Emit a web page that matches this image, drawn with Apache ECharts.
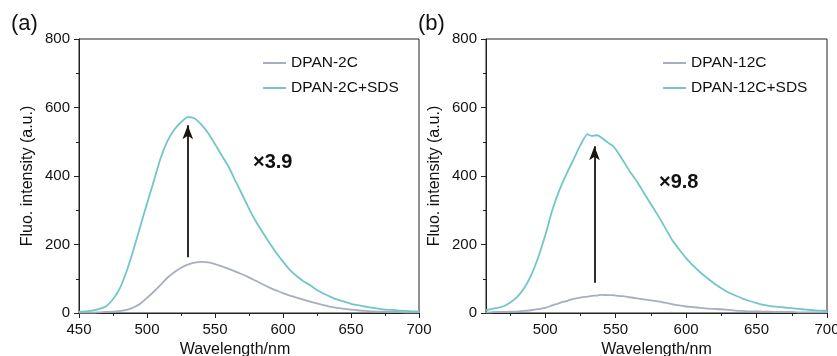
<!DOCTYPE html>
<html>
<head>
<meta charset="utf-8">
<script src="https://cdn.jsdelivr.net/npm/echarts@6/dist/echarts.min.js"></script>
<style>
html,body{margin:0;padding:0;background:#fff;}
#chart{width:837px;height:356px;}
</style>
</head>
<body>
<div id="chart"></div>
<script>
// ---- Data ----
const wavelengthA = [450,455,460,465,470,475,480,485,490,495,500,505,510,515,520,525,530,535,540,545,550,555,560,565,570,575,580,585,590,595,600,605,610,615,620,625,630,635,640,645,650,655,660,665,670,675,680,685,690,695,700];
const dpan2c = [1,1,1,2,3,4,6,9,16,27,44,62,82,103,119,132,141,147,149,148,143,136,129,121,113,104,94,84,74,66,58,51,45,39,33,28,23,18,15,12,10,8,6,5,4,4,3,3,2,2,2];
const dpan2cSDS = [4,5,7,12,20,40,72,122,184,252,320,385,452,502,535,557,572,568,550,525,493,460,427,386,346,305,268,236,205,176,150,126,108,93,81,67,56,47,39,33,27,23,19,16,13,10,9,7,6,5,4];

const wavelengthB = [458,460,465,470,475,480,485,490,495,500,505,510,515,520,525,530,533,537,540,545,548,550,555,560,565,570,575,580,585,590,595,600,605,610,615,620,625,630,635,640,645,650,655,660,665,670,675,680,685,690,695,700];
const dpan12c = [2,2,3,3,4,4,6,8,11,15,22,29,35,41,45,48,50,51,53,52,52,51,49,46,43,40,37,34,30,26,22,19,17,15,13,12,11,9,7,6,5,5,4,4,3,3,3,2,2,2,2,2];
const dpan12cSDS = [8,10,14,19,30,46,72,110,162,226,300,358,405,447,490,522,517,519,512,496,488,478,447,414,385,351,318,285,250,214,186,160,138,119,102,86,72,60,51,42,35,29,24,20,18,16,14,12,10,8,7,6];

const yTicks = [0,200,400,600,800];
const xTicksB = [500,550,600,650,700];
const xMinorB = [475,525,575,625,675];

const arrowA = [[530,163],[530,548]];
const arrowB = [[535,88],[535,487]];
const namesA = ['DPAN-2C','DPAN-2C+SDS'];
const namesB = ['DPAN-12C','DPAN-12C+SDS'];
const foldA = '×3.9';
const foldB = '×9.8';

// ---- Styles ----
const FONT = 'Liberation Sans, Arial, sans-serif';
const GRAY = '#a7aebf';
const TEAL = '#72c6c9';
const INK = '#222';

function pairs(xs, ys){ return xs.map((x,i)=>[x, ys[i]]); }

const chart = echarts.init(document.getElementById('chart'), null, {renderer:'canvas'});

const axisLine = {show:true, lineStyle:{color:INK, width:1}};
const labelStyle = {color:'#111', fontFamily:FONT, fontSize:15};

function yAxisDef(gi){
  return {
    type:'value', gridIndex:gi, min:0, max:800, interval:200,
    name:'Fluo. intensity (a.u.)', nameLocation:'middle', nameGap:43,
    nameTextStyle:{color:'#111', fontFamily:FONT, fontSize:16},
    axisLine:axisLine,
    axisTick:{show:true, length:5, lineStyle:{color:INK}},
    minorTick:{show:true, splitNumber:2, length:3, lineStyle:{color:INK}},
    axisLabel:Object.assign({margin:9}, labelStyle),
    splitLine:{show:false}
  };
}

const legendCommon = {
  orient:'vertical', top:55, itemWidth:23, itemHeight:2, itemGap:9, padding:0,
  icon:'rect', textStyle:{color:'#111', fontFamily:FONT, fontSize:15.5}, itemStyle:{borderWidth:0}
};

const arrowStyle = {
  silent:true, symbol:['none','arrow'], symbolSize:[8,14], label:{show:false},
  lineStyle:{color:'#1a1412', width:1.8, type:'solid'}
};

const option = {
  animation:false,
  backgroundColor:'#fff',
  textStyle:{fontFamily:FONT},
  grid:[
    {left:79, top:39, width:340, height:274, show:true, borderColor:INK, borderWidth:1, containLabel:false, outerBoundsMode:'none'},
    {left:486, top:39, width:341, height:274, show:true, borderColor:INK, borderWidth:1, containLabel:false, outerBoundsMode:'none'}
  ],
  xAxis:[
    {
      type:'value', gridIndex:0, min:450, max:700, interval:50,
      name:'Wavelength/nm', nameLocation:'middle', nameGap:27,
      nameTextStyle:{color:'#111', fontFamily:FONT, fontSize:16, padding:[0,28,0,0]},
      axisLine:axisLine,
      axisTick:{show:true, length:5, lineStyle:{color:INK}},
      minorTick:{show:true, splitNumber:2, length:3, lineStyle:{color:INK}},
      axisLabel:Object.assign({margin:9}, labelStyle),
      splitLine:{show:false}
    },
    {
      type:'value', gridIndex:1, min:458, max:700,
      name:'Wavelength/nm', nameLocation:'middle', nameGap:27,
      nameTextStyle:{color:'#111', fontFamily:FONT, fontSize:16},
      axisLine:axisLine,
      axisTick:{show:true, length:5, customValues:xTicksB, lineStyle:{color:INK}},
      axisLabel:Object.assign({margin:9, customValues:xTicksB}, labelStyle),
      splitLine:{show:false}
    },
    {
      type:'value', gridIndex:1, min:458, max:700, position:'bottom',
      axisLine:{show:false},
      axisTick:{show:true, length:3, customValues:xMinorB, lineStyle:{color:INK}},
      axisLabel:{show:false},
      splitLine:{show:false}
    }
  ],
  yAxis:[ yAxisDef(0), yAxisDef(1) ],
  legend:[
    Object.assign({data:namesA, left:263}, legendCommon),
    Object.assign({data:namesB, left:663}, legendCommon)
  ],
  series:[
    {
      name:namesA[0], type:'line', xAxisIndex:0, yAxisIndex:0, data:pairs(wavelengthA, dpan2c),
      showSymbol:false, symbol:'none', color:GRAY, lineStyle:{color:GRAY, width:1.8}, smooth:0.3
    },
    {
      name:namesA[1], type:'line', xAxisIndex:0, yAxisIndex:0, data:pairs(wavelengthA, dpan2cSDS),
      showSymbol:false, symbol:'none', color:TEAL, lineStyle:{color:TEAL, width:1.8}, smooth:0.2,
      markLine:Object.assign({data:[[{coord:arrowA[0]},{coord:arrowA[1]}]]}, arrowStyle)
    },
    {
      name:namesB[0], type:'line', xAxisIndex:1, yAxisIndex:1, data:pairs(wavelengthB, dpan12c),
      showSymbol:false, symbol:'none', color:GRAY, lineStyle:{color:GRAY, width:1.8}, smooth:0.3
    },
    {
      name:namesB[1], type:'line', xAxisIndex:1, yAxisIndex:1, data:pairs(wavelengthB, dpan12cSDS),
      showSymbol:false, symbol:'none', color:TEAL, lineStyle:{color:TEAL, width:1.8}, smooth:0.2,
      markLine:Object.assign({data:[[{coord:arrowB[0]},{coord:arrowB[1]}]]}, arrowStyle)
    }
  ],
  graphic:[
    {type:'text', left:11, top:13, style:{text:'(a)', font:'22px '+FONT, fill:'#111'}},
    {type:'text', left:418, top:13, style:{text:'(b)', font:'22px '+FONT, fill:'#111'}},
    {type:'text', left:253, top:152, style:{text:foldA, font:'bold 20px '+FONT, fill:'#111'}},
    {type:'text', left:659, top:172, style:{text:foldB, font:'bold 20px '+FONT, fill:'#111'}}
  ]
};
chart.setOption(option);
</script>
</body>
</html>
